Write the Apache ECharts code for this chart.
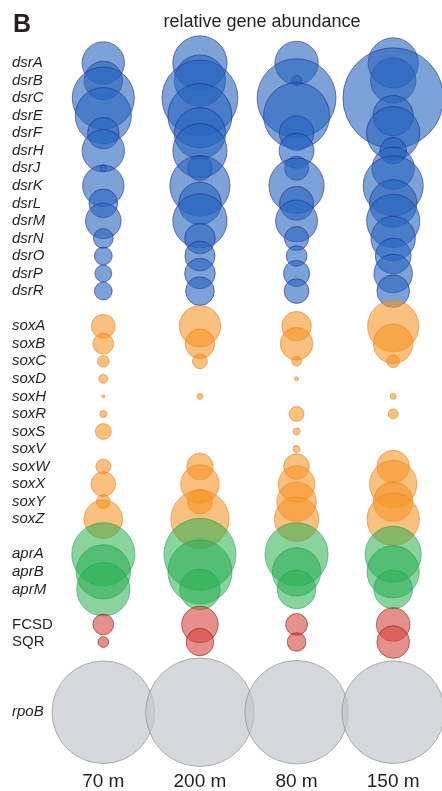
<!DOCTYPE html>
<html>
<head>
<meta charset="utf-8">
<script src="https://cdn.jsdelivr.net/npm/echarts@6/dist/echarts.min.js"></script>
<style>
html,body{margin:0;padding:0;background:#fff;}
#chart{width:442px;height:791px;}
</style>
</head>
<body>
<div id="chart"></div>
<script>
// ---- data ----
const sites = ['70 m', '200 m', '80 m', '150 m'];

const dsrGenes = ['dsrA','dsrB','dsrC','dsrE','dsrF','dsrH','dsrJ','dsrK','dsrL','dsrM','dsrN','dsrO','dsrP','dsrR'];
const soxGenes = ['soxA','soxB','soxC','soxD','soxH','soxR','soxS','soxV','soxW','soxX','soxY','soxZ'];
const aprGenes = ['aprA','aprB','aprM'];
const otherGenes = ['FCSD','SQR'];
const refGenes = ['rpoB'];

// relative gene abundance (arbitrary units, rpoB at 70 m = 100); null = not detected
const dsr70  = [17.1, 14.1, 36.7, 30.0, 9.5, 17.1, 0.45, 16.3, 7.8, 12.0, 3.7, 3.0, 2.7, 3.0];
const dsr200 = [28.0, 25.0, 54.8, 39.1, 25.0, 28.0, 5.8, 34.4, 17.1, 28.0, 8.9, 8.6, 8.9, 7.8];
const dsr80  = [17.9, 1.0, 59.2, 41.5, 11.3, 11.6, 5.5, 29.0, 10.9, 16.7, 5.5, 4.1, 6.5, 5.8];
const dsr150 = [24.0, 19.6, 96.2, 15.5, 27.0, 6.7, 17.1, 34.4, 21.3, 27.0, 18.7, 12.0, 14.1, 10.1];

const sox70  = [5.3, 4.1, 1.3, 0.75, 0.08, 0.45, 2.4, null, 2.1, 5.8, 1.8, 14.1];
const sox200 = [16.3, 8.3, 2.1, null, 0.33, null, null, null, 6.7, 14.1, 5.8, 32.2];
const sox80  = [8.3, 10.1, 0.92, 0.15, null, 2.1, 0.45, 0.45, 6.25, 12.7, 14.8, 18.7];
const sox150 = [25.0, 14.8, 1.56, null, 0.33, 0.92, null, null, 10.1, 21.3, 14.8, 26.0];

const apr70  = [37.9, 28.0, 27.0];
const apr200 = [49.3, 39.1, 15.5];
const apr80  = [37.9, 22.2, 14.1];
const apr150 = [30.0, 26.0, 14.1];

const other70  = [4.1, 1.1];
const other200 = [12.7, 7.2];
const other80  = [4.5, 3.3];
const other150 = [10.7, 10.1];

const ref70  = [100];
const ref200 = [111.9];
const ref80  = [101.9];
const ref150 = [100];

// ---- layout of rows (gaps between gene groups) ----
const GAP = '\u0000';
let gapCount = 0;
function gap(){ gapCount++; return GAP + gapCount; }
const yCats = [].concat(
  dsrGenes, [gap()],
  soxGenes, [gap()],
  aprGenes, [gap()],
  otherGenes, [gap(), gap(), gap()],
  refGenes
);

function build(genes, perSite){
  const out = [];
  perSite.forEach(function(vals, s){
    genes.forEach(function(g, i){
      if (vals[i] != null) out.push([s, yCats.indexOf(g), vals[i]]);
    });
  });
  return out;
}

const SCALE = 10.25;
function sz(d){ return SCALE * Math.sqrt(d[2]); }

function mkSeries(name, data, fill, border, opacity){
  return {
    name: name,
    type: 'scatter',
    clip: false,
    data: data,
    symbol: 'circle',
    symbolSize: sz,
    itemStyle: { color: fill, opacity: opacity, borderColor: border, borderWidth: 1 },
    emphasis: { disabled: true },
    animation: false
  };
}

const chart = echarts.init(document.getElementById('chart'), null, { renderer: 'canvas' });
const FONT = "'Liberation Sans', Arial, Helvetica, sans-serif";

chart.setOption({
  backgroundColor: '#ffffff',
  animation: false,
  title: [
    { text: 'B', left: 8, top: 8, textStyle: { fontFamily: FONT, fontSize: 25, fontWeight: 'bold', color: '#231f20' } },
    { text: 'relative gene abundance', left: 257, top: 8, textAlign: 'center',
      textStyle: { fontFamily: FONT, fontSize: 18, fontWeight: 'normal', color: '#231f20' } }
  ],
  grid: { left: 55, right: 0.5, top: 54.2, bottom: 68, containLabel: false },
  xAxis: {
    type: 'category',
    data: sites,
    boundaryGap: true,
    axisLine: { show: false },
    axisTick: { show: false },
    splitLine: { show: false },
    axisLabel: { margin: 51, fontFamily: FONT, fontSize: 19, color: '#231f20', interval: 0 }
  },
  yAxis: {
    type: 'category',
    data: yCats,
    inverse: true,
    boundaryGap: true,
    axisLine: { show: false },
    axisTick: { show: false },
    splitLine: { show: false },
    axisLabel: {
      interval: 0,
      align: 'left',
      margin: 43,
      formatter: function(v){
        if (v.charAt(0) === GAP) return '';
        if (otherGenes.indexOf(v) >= 0) return '{n|' + v + '}';
        return '{i|' + v + '}';
      },
      rich: {
        i: { fontFamily: FONT, fontSize: 15, fontStyle: 'italic', color: '#231f20' },
        n: { fontFamily: FONT, fontSize: 15, fontStyle: 'normal', color: '#231f20' }
      }
    }
  },
  series: [
    mkSeries('dsr', build(dsrGenes, [dsr70, dsr200, dsr80, dsr150]), 'rgb(38,100,190)', '#262a8a', 0.6),
    mkSeries('sox', build(soxGenes, [sox70, sox200, sox80, sox150]), 'rgb(245,150,40)', '#ef7d22', 0.6),
    mkSeries('apr', build(aprGenes, [apr70, apr200, apr80, apr150]), 'rgb(40,175,80)', '#13a04a', 0.55),
    mkSeries('other', build(otherGenes, [other70, other200, other80, other150]), 'rgb(212,70,60)', '#8b1e1e', 0.6),
    mkSeries('ref', build(refGenes, [ref70, ref200, ref80, ref150]), 'rgb(196,200,208)', '#8f9296', 0.7)
  ]
});
</script>
</body>
</html>
